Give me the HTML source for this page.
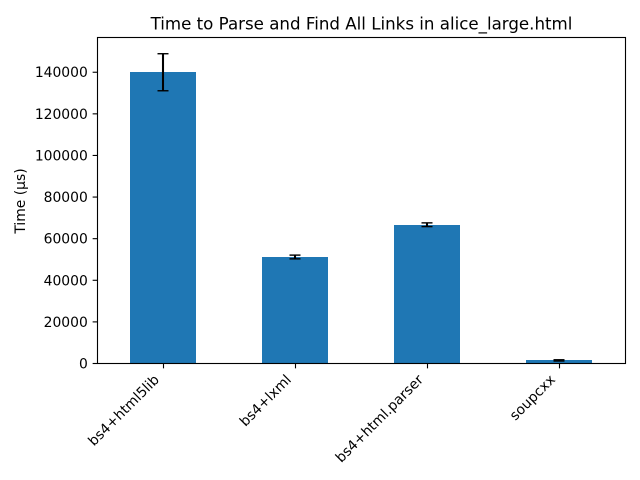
<!DOCTYPE html>
<html>
<head>
<meta charset="utf-8">
<title>Time to Parse and Find All Links in alice_large.html</title>
<style>
html,body{margin:0;padding:0;background:#fff;width:640px;height:480px;overflow:hidden}
svg{display:block}
text{font-family:"DejaVu Sans",sans-serif;fill:#000}
</style>
</head>
<body>
<svg id="chart" xmlns="http://www.w3.org/2000/svg" width="640" height="480" viewBox="0 0 640 480">
<rect x="0" y="0" width="640" height="480" fill="#fff"/>
<text x="361.5" y="29.5" font-size="16.67" text-anchor="middle">Time to Parse and Find All Links in alice_large.html</text>
<text transform="translate(25 201) rotate(-90)" font-size="13.89" text-anchor="middle">Time (µs)</text>
<g id="bars"></g>
<g id="errors"></g>
<g id="ticks"></g>
<rect x="97.5" y="37.5" width="528" height="326" fill="none" stroke="#000" stroke-width="1.11"/>
</svg>
<script>
const categories = ["bs4+html5lib", "bs4+lxml", "bs4+html.parser", "soupcxx"];
const times = [140000, 51200, 66700, 1500];
const errors = [8900, 900, 900, 300];
const yTicks = [0, 20000, 40000, 60000, 80000, 100000, 120000, 140000];

const NS = "http://www.w3.org/2000/svg";
const plotLeft = 97, plotRight = 625, plotTop = 37.5, plotBottom = 363.5;
const yMax = 156700;

function yScale(v) {
  return plotBottom - (v / yMax) * (plotBottom - plotTop);
}
function xScale(i) {
  const step = (plotRight - plotLeft) / (categories.length);
  return plotLeft + step * (i + 0.5);
}
function make(tag, attrs, parent) {
  const el = document.createElementNS(NS, tag);
  for (const k in attrs) el.setAttribute(k, attrs[k]);
  parent.appendChild(el);
  return el;
}

const barLayer = document.getElementById("bars");
const errLayer = document.getElementById("errors");
const tickLayer = document.getElementById("ticks");
const step = (plotRight - plotLeft) / categories.length;
const barW = step * 0.5;

categories.forEach(function (name, i) {
  const cx = xScale(i);
  const top = Math.round(yScale(times[i]) - 0.2);
  const bar = make("rect", {x: cx - barW / 2, y: top, width: barW, height: plotBottom - top, fill: "#1f77b4", "shape-rendering": "crispEdges"}, barLayer);
  
  

  const hi = yScale(times[i] + errors[i]);
  const lo = yScale(times[i] - errors[i]);
  const stem = make("line", {x1: cx, x2: cx, y1: hi, y2: lo, stroke: "#000", "stroke-width": 2.08}, errLayer);
  
  
  [hi, lo].forEach(function (y) {
    const cap = make("line", {x1: cx - 5.5, x2: cx + 5.5, y1: y, y2: y, stroke: "#000", "stroke-width": 1.39}, errLayer);
    
    
  });

  const tick = make("line", {x1: cx + 0.5, x2: cx + 0.5, y1: plotBottom, y2: plotBottom + 4.86, stroke: "#000", "stroke-width": 1.11}, tickLayer);
  
  
  const label = make("text", {transform: "translate(" + (cx - 3) + " " + (plotBottom + 17) + ") rotate(-45)", "font-size": 13.89, "text-anchor": "end"}, tickLayer);
  
  
  label.textContent = name;
});

yTicks.forEach(function (v) {
  const y = yScale(v);
  const tick = make("line", {x1: plotLeft + 0.5 - 4.86, x2: plotLeft + 0.5, y1: y, y2: y, stroke: "#000", "stroke-width": 1.11}, tickLayer);
  
  
  const label = make("text", {x: plotLeft - 9.2, y: y + 5, "font-size": 13.89, "text-anchor": "end"}, tickLayer);
  
  
  label.textContent = String(v);
});
</script>
</body>
</html>
